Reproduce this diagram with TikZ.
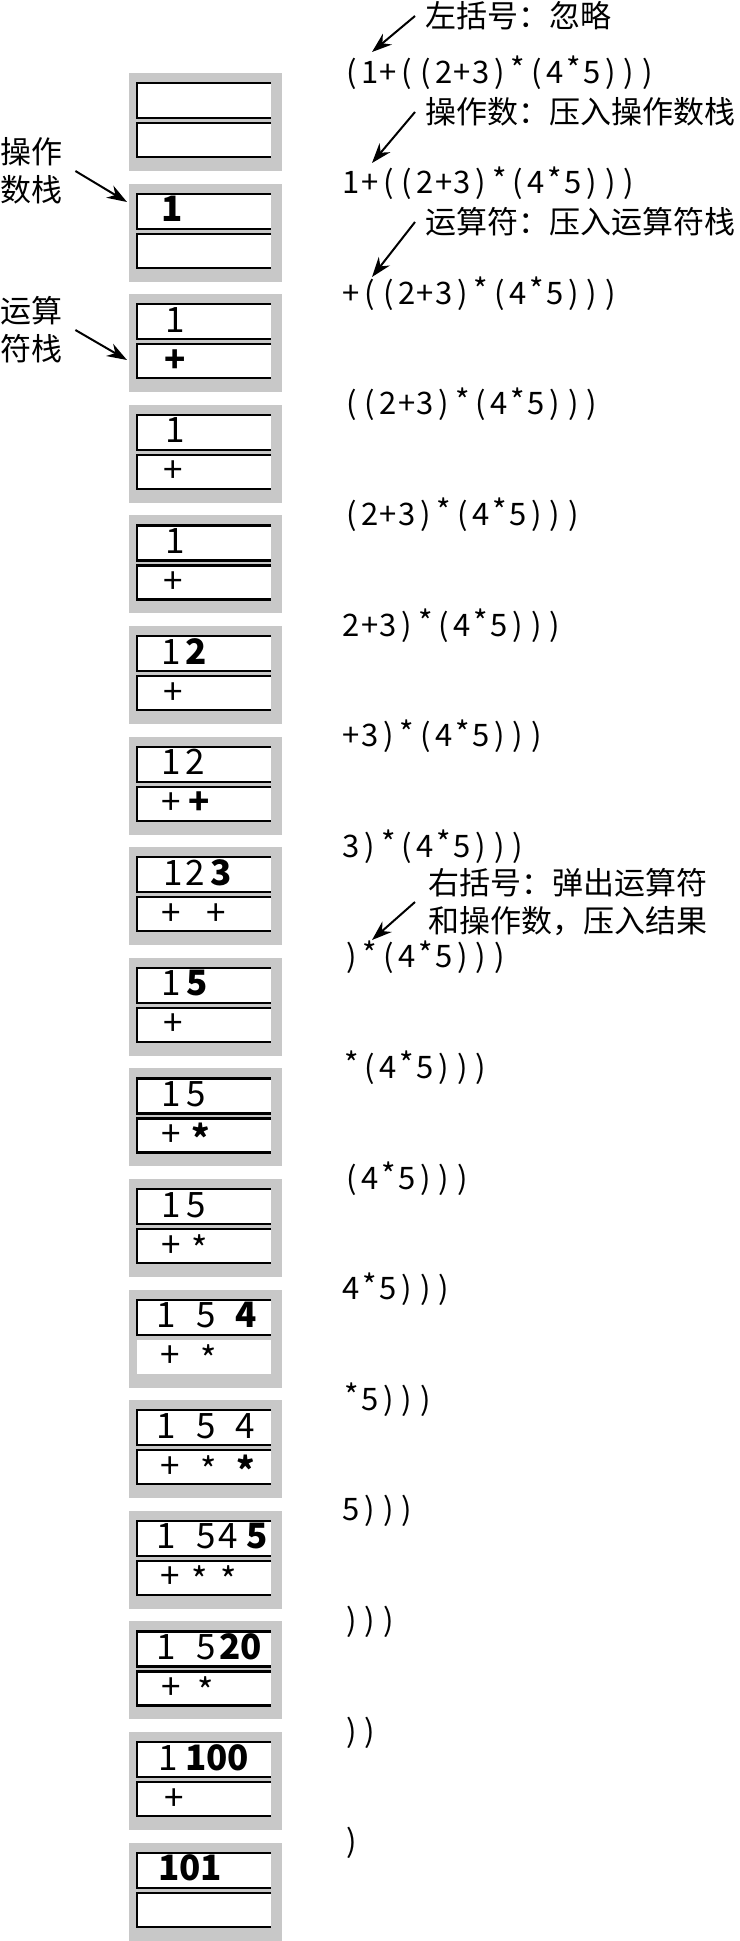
\documentclass[tikz,border=0pt]{standalone}
\usepackage{fontspec}
\setmainfont{Noto Sans CJK SC}
\usetikzlibrary{arrows.meta}
\definecolor{stackgray}{HTML}{C8C8C8}

\newcommand{\exprfont}{\fontsize{31}{36}\selectfont}
\newcommand{\stackfont}{\fontsize{35}{40}\selectfont}
\newcommand{\notefont}{\fontsize{31}{38}\selectfont}

% one character per cell of equal width, stars raised
\newcommand{\spread}[1]{\spreadnext#1\relax}
\newcommand{\spreadnext}[1]{\ifx\relax#1\else
  \makebox[18.5pt]{\ifx*#1\raisebox{2.5pt}{*}\else#1\fi}\expandafter\spreadnext\fi}

\newcommand{\opstar}{\raisebox{-5pt}{*}}
\newcommand{\bopstar}{\raisebox{-5pt}{\bfseries *}}

% one state of the two stacks: [lower box style]{step}{operands}{operators}
\newcommand{\stackstep}[4][box]{%
  \pgfmathsetmacro{\ytop}{73+110.6*(#2-1)}
  \node[block] (b#2) at (205.5,\ytop+49) {};
  \draw[box] (271,\ytop+10) -- (137,\ytop+10) -- (137,\ytop+45) -- (271,\ytop+45);
  \draw[#1] (271,\ytop+50) -- (137,\ytop+50) -- (137,\ytop+84) -- (271,\ytop+84);
  \foreach \px/\txt in {#3} \node[item] (o#2-\px) at (\px,\ytop+38) {\txt};
  \foreach \px/\txt in {#4} \node[item] (p#2-\px) at (\px,\ytop+78) {\txt};
}

\begin{document}
\begin{tikzpicture}[x=1pt, y=-1pt,
  block/.style={fill=stackgray, minimum width=153pt, minimum height=98pt, inner sep=0pt},
  box/.style={draw, line width=2.2pt, fill=white},
  blankbox/.style={draw=none, fill=white},
  item/.style={anchor=base west, inner sep=0pt, font=\stackfont},
  expr/.style={anchor=base west, inner sep=0pt, font=\exprfont},
  note/.style={anchor=west, inner sep=0pt, font=\notefont, align=left},
  pointer/.style={-{Stealth[length=20pt, width=14pt]}, line width=2pt}]
\useasboundingbox (0,0) rectangle (739,1941);

% Stacks: operands above, operators below
\stackstep{1}{}{}
\stackstep{2}{161/\textbf{1}}{}
\stackstep{3}{165/1}{164/\textbf{+}}
\stackstep{4}{165/1}{163/+}
\stackstep{5}{165/1}{163/+}
\stackstep{6}{161/1, 185/\textbf{2}}{163/+}
\stackstep{7}{161/1, 185/2}{161/+, 188/\textbf{+}}
\stackstep{8}{163/1, 185/2, 210/\textbf{3}}{161/+, 206/+}
\stackstep{9}{161/1, 186/\textbf{5}}{163/+}
\stackstep{10}{161/1, 186/5}{161/+, 191/\bopstar}
\stackstep{11}{161/1, 186/5}{161/+, 191/\opstar}
\stackstep[blankbox]{12}{156/1, 196/5, 235/\textbf{4}}{160/+, 200/\opstar}
\stackstep{13}{156/1, 196/5, 235/4}{160/+, 200/\opstar, 236/\bopstar}
\stackstep{14}{156/1, 196/5, 218/4, 246/\textbf{5}}{160/+, 191/\opstar, 220/\opstar}
\stackstep{15}{156/1, 196/5, 219/\textbf{20}}{161/+, 197/\opstar}
\stackstep{16}{158/1, 185/\textbf{100}}{164/+}
\stackstep{17}{158/\textbf{101}}{}

% Remaining input, one line per step
\foreach \k/\e in {1/(1+((2+3)*(4*5))), 2/1+((2+3)*(4*5))), 3/+((2+3)*(4*5))),
    4/((2+3)*(4*5))), 5/(2+3)*(4*5))), 6/2+3)*(4*5))), 7/+3)*(4*5))),
    8/3)*(4*5))), 9/)*(4*5))), 10/*(4*5))), 11/(4*5))), 12/4*5))),
    13/*5))), 14/5))), 15/))), 16/)), 17/)}
  \node[expr] (e\k) at (342,83+110.6*\k-110.6) {\expandafter\spread\expandafter{\e}};

% Notes
\node[note] (n1) at (425,16) {左括号：忽略};
\node[note] (n2) at (425,112) {操作数：压入操作数栈};
\node[note] (n3) at (425,222) {运算符：压入运算符栈};
\node[note] (n4) at (428,902) {右括号：弹出运算符\\和操作数，压入结果};
\node[note] (na) at (0,171) {操作\\数栈};
\node[note] (nb) at (0,330) {运算\\符栈};

\coordinate (t1) at (372,52);
\coordinate (t2) at (372,163);
\coordinate (t3) at (372,277);
\coordinate (t4) at (372,940);
\coordinate (ta) at (127,202);
\coordinate (tb) at (127,360);

\draw[pointer] ([xshift=-10pt]n1.west) -- (t1);
\draw[pointer] ([xshift=-10pt]n2.west) -- (t2);
\draw[pointer] ([xshift=-10pt]n3.west) -- (t3);
\draw[pointer] ([xshift=-13pt]n4.west) -- (t4);
\draw[pointer] ([xshift=13pt]na.east) -- (ta);
\draw[pointer] ([xshift=13pt]nb.east) -- (tb);
\end{tikzpicture}
\end{document}
